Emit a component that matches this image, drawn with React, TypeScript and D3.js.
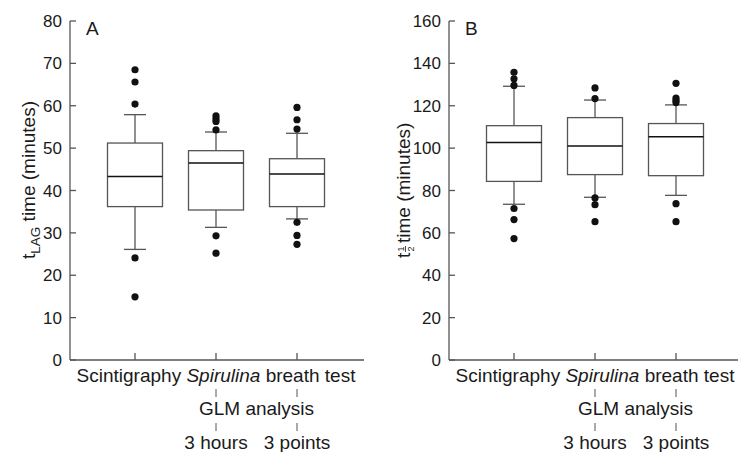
import React from "react";
import * as d3 from "d3";

const categories = ["Scintigraphy", "Spirulina 3 hours", "Spirulina 3 points"];

// Panel A: t_LAG (minutes)
const aWhiskerLow = [26.1, 31.3, 33.3];
const aQ1 = [36.2, 35.4, 36.2];
const aMedian = [43.3, 46.5, 43.9];
const aQ3 = [51.2, 49.4, 47.5];
const aWhiskerHigh = [57.9, 53.8, 53.5];
const aOutliers = [
  [68.5, 65.6, 60.4, 24.1, 14.9],
  [57.6, 56.9, 56.3, 54.3, 29.3, 25.2],
  [59.6, 56.7, 54.5, 32.5, 29.4, 27.3],
];
const aTicks = [0, 10, 20, 30, 40, 50, 60, 70, 80];

// Panel B: t1/2 (minutes)
const bWhiskerLow = [73.5, 76.8, 77.7];
const bQ1 = [84.3, 87.5, 87.0];
const bMedian = [102.6, 101.0, 105.4];
const bQ3 = [110.6, 114.4, 111.6];
const bWhiskerHigh = [129.2, 122.7, 120.4];
const bOutliers = [
  [135.8, 132.7, 129.6, 71.5, 66.3, 57.3],
  [128.4, 123.4, 76.5, 73.3, 65.3],
  [130.6, 123.6, 122.6, 121.5, 73.8, 65.3],
];
const bTicks = [0, 20, 40, 60, 80, 100, 120, 140, 160];

const FONT = "'Liberation Sans', Arial, Helvetica, sans-serif";
const GRAY = "#555";
const TXT = "#1a1a1a";

type PanelProps = {
  ox: number;
  yMax: number;
  ticks: number[];
  wl: number[];
  q1: number[];
  med: number[];
  q3: number[];
  wh: number[];
  outs: number[][];
  letter: string;
  label: React.ReactNode;
};

function Panel({ ox, yMax, ticks, wl, q1, med, q3, wh, outs, letter, label }: PanelProps) {
  const axisX = ox;
  const y = d3.scaleLinear().domain([0, yMax]).range([360, 21]);
  const x = d3
    .scaleBand<string>()
    .domain(categories)
    .range([ox + 24.5, ox + 267.5])
    .padding(0);
  const bw = 55;
  const cap = 22;
  const cx = (i: number) => (x(categories[i]) as number) + x.bandwidth() / 2;
  const c2 = cx(1);
  const c3 = cx(2);
  return (
    <g>
      <line x1={axisX} x2={axisX} y1={y(yMax)} y2={y(0)} stroke={GRAY} strokeWidth={1.3} />
      <line x1={axisX} x2={axisX + 294} y1={y(0)} y2={y(0)} stroke={GRAY} strokeWidth={1.3} />
      {ticks.map((t) => (
        <g key={t}>
          <line x1={axisX} x2={axisX + 6} y1={y(t)} y2={y(t)} stroke={GRAY} strokeWidth={1.3} />
          <text x={axisX - 8} y={y(t) + 6} textAnchor="end" fontSize={17} fill={TXT} fontFamily={FONT}>
            {t}
          </text>
        </g>
      ))}
      {categories.map((c, i) => (
        <line key={c} x1={cx(i)} x2={cx(i)} y1={y(0)} y2={y(0) - 7} stroke={GRAY} strokeWidth={1.3} />
      ))}
      <text x={axisX + 16} y={35} fontSize={19} fill={TXT} fontFamily={FONT}>
        {letter}
      </text>
      {categories.map((c, i) => {
        const m = cx(i);
        return (
          <g key={c}>
            <line x1={m} x2={m} y1={y(wh[i])} y2={y(q3[i])} stroke={GRAY} strokeWidth={1.3} />
            <line x1={m} x2={m} y1={y(q1[i])} y2={y(wl[i])} stroke={GRAY} strokeWidth={1.3} />
            <line x1={m - cap / 2} x2={m + cap / 2} y1={y(wh[i])} y2={y(wh[i])} stroke={GRAY} strokeWidth={1.3} />
            <line x1={m - cap / 2} x2={m + cap / 2} y1={y(wl[i])} y2={y(wl[i])} stroke={GRAY} strokeWidth={1.3} />
            <rect
              x={m - bw / 2}
              y={y(q3[i])}
              width={bw}
              height={y(q1[i]) - y(q3[i])}
              fill="white"
              stroke={GRAY}
              strokeWidth={1.3}
            />
            <line x1={m - bw / 2} x2={m + bw / 2} y1={y(med[i])} y2={y(med[i])} stroke="#111" strokeWidth={1.5} />
            {outs[i].map((v, k) => (
              <circle key={k} cx={m} cy={y(v)} r={3.6} fill="#111" />
            ))}
          </g>
        );
      })}
      <text x={c2} y={382} textAnchor="middle" fontSize={19} fill={TXT} fontFamily={FONT}>
        <tspan>Scintigraphy </tspan>
        <tspan fontStyle="italic">Spirulina</tspan>
        <tspan> breath test</tspan>
      </text>
      <line x1={c2} x2={c2} y1={389} y2={397} stroke={GRAY} strokeWidth={1} />
      <line x1={c3} x2={c3} y1={389} y2={397} stroke={GRAY} strokeWidth={1} />
      <text x={(c2 + c3) / 2} y={415} textAnchor="middle" fontSize={19} fill={TXT} fontFamily={FONT}>
        GLM analysis
      </text>
      <line x1={c2} x2={c2} y1={423} y2={431} stroke={GRAY} strokeWidth={1} />
      <line x1={c3} x2={c3} y1={423} y2={431} stroke={GRAY} strokeWidth={1} />
      <text x={c2} y={449} textAnchor="middle" fontSize={19} fill={TXT} fontFamily={FONT}>
        3 hours
      </text>
      <text x={c3} y={449} textAnchor="middle" fontSize={19} fill={TXT} fontFamily={FONT}>
        3 points
      </text>
      {label}
    </g>
  );
}

export default function App() {
  const labelA = (
    <text
      transform="translate(35,180) rotate(-90)"
      textAnchor="middle"
      fontSize={19}
      fill={TXT}
      fontFamily={FONT}
    >
      <tspan>t</tspan>
      <tspan fontSize={13.5} dy={5}>LAG</tspan>
      <tspan dy={-5}> time (minutes)</tspan>
    </text>
  );
  const labelB = (
    <g transform="translate(410,180) rotate(-90)">
      <text x={-78} y={0} fontSize={19} fill={TXT} fontFamily={FONT}>t</text>
      <text x={-71.5} y={-6.5} fontSize={9} fill={TXT} fontFamily={FONT}>1</text>
      <line x1={-72} x2={-66} y1={-4.5} y2={-4.5} stroke={TXT} strokeWidth={0.8} />
      <text x={-71.5} y={3.5} fontSize={9} fill={TXT} fontFamily={FONT}>2</text>
      <text x={-63} y={0} fontSize={19} fill={TXT} fontFamily={FONT}>time (minutes)</text>
    </g>
  );
  return (
    <svg
      width={738}
      height={452}
      style={{ position: "absolute", left: 0, top: 0, background: "white" }}
    >
      <rect width={738} height={452} fill="white" />
      <Panel
        ox={70}
        yMax={80}
        ticks={aTicks}
        wl={aWhiskerLow}
        q1={aQ1}
        med={aMedian}
        q3={aQ3}
        wh={aWhiskerHigh}
        outs={aOutliers}
        letter="A"
        label={labelA}
      />
      <Panel
        ox={449}
        yMax={160}
        ticks={bTicks}
        wl={bWhiskerLow}
        q1={bQ1}
        med={bMedian}
        q3={bQ3}
        wh={bWhiskerHigh}
        outs={bOutliers}
        letter="B"
        label={labelB}
      />
    </svg>
  );
}
